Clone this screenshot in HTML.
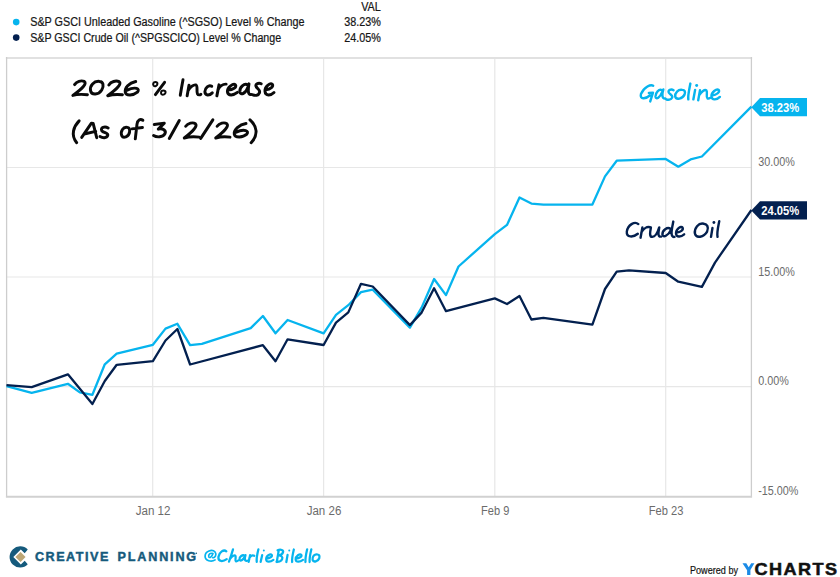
<!DOCTYPE html>
<html><head><meta charset="utf-8"><title>2026 % Increase - Gasoline vs Crude Oil</title>
<style>
html,body{margin:0;padding:0;background:#ffffff;}
body{width:840px;height:577px;overflow:hidden;position:relative;font-family:"Liberation Sans",sans-serif;}
</style></head><body>
<svg width="840" height="577" viewBox="0 0 840 577" style="display:block;position:absolute;left:0;top:0" font-family="Liberation Sans, sans-serif">
<rect x="0" y="0" width="840" height="577" fill="#ffffff"/>
<line x1="6.5" x2="751.5" y1="167.5" y2="167.5" stroke="#e7e7e7" stroke-width="1.2"/>
<line x1="6.5" x2="751.5" y1="277.0" y2="277.0" stroke="#e7e7e7" stroke-width="1.2"/>
<line x1="6.5" x2="751.5" y1="386.7" y2="386.7" stroke="#e7e7e7" stroke-width="1.2"/>
<line x1="152.7" x2="152.7" y1="57.5" y2="496.8" stroke="#e7e7e7" stroke-width="1.2"/>
<line x1="323.6" x2="323.6" y1="57.5" y2="496.8" stroke="#e7e7e7" stroke-width="1.2"/>
<line x1="494.8" x2="494.8" y1="57.5" y2="496.8" stroke="#e7e7e7" stroke-width="1.2"/>
<line x1="665.7" x2="665.7" y1="57.5" y2="496.8" stroke="#e7e7e7" stroke-width="1.2"/>
<line x1="5.9" x2="752.1" y1="58.0" y2="58.0" stroke="#e1e1e1" stroke-width="2.0"/>
<line x1="6.6" x2="6.6" y1="57.0" y2="496.8" stroke="#cdcdcd" stroke-width="1.3"/>
<line x1="751.4" x2="751.4" y1="57.0" y2="496.8" stroke="#cdcdcd" stroke-width="1.3"/>
<line x1="5.9" x2="752.1" y1="496.8" y2="496.8" stroke="#d1d1d1" stroke-width="2.1"/>
<circle cx="16.2" cy="22.1" r="3.3" fill="#06b4ee"/>
<circle cx="16.2" cy="37.6" r="3.3" fill="#03204f"/>
<g fill="#161616" stroke="#161616" stroke-width="0.22" font-size="12">
<text x="30.2" y="26.3" textLength="274.3" lengthAdjust="spacingAndGlyphs">S&amp;P GSCI Unleaded Gasoline (^SGSO) Level % Change</text>
<text x="30.2" y="41.8" textLength="251" lengthAdjust="spacingAndGlyphs">S&amp;P GSCI Crude Oil (^SPGSCICO) Level % Change</text>
<text x="361.2" y="11.3" textLength="19.6" lengthAdjust="spacingAndGlyphs">VAL</text>
<text x="344.2" y="26.3" textLength="36.6" lengthAdjust="spacingAndGlyphs">38.23%</text>
<text x="344.2" y="41.8" textLength="36.6" lengthAdjust="spacingAndGlyphs">24.05%</text>
</g>
<g fill="#6b6b6b" font-size="12.3">
<text x="758.2" y="166.1" textLength="36.6" lengthAdjust="spacingAndGlyphs">30.00%</text>
<text x="758.2" y="275.6" textLength="36.6" lengthAdjust="spacingAndGlyphs">15.00%</text>
<text x="758.2" y="385.4" textLength="30.6" lengthAdjust="spacingAndGlyphs">0.00%</text>
<text x="758.2" y="494.9" textLength="40.2" lengthAdjust="spacingAndGlyphs">-15.00%</text>
</g>
<g fill="#6b6b6b" font-size="12.3" text-anchor="start">
<text x="135.7" y="515.1" textLength="34.8" lengthAdjust="spacingAndGlyphs">Jan 12</text>
<text x="306.7" y="515.1" textLength="34.6" lengthAdjust="spacingAndGlyphs">Jan 26</text>
<text x="481.1" y="515.1" textLength="28.2" lengthAdjust="spacingAndGlyphs">Feb 9</text>
<text x="648.8" y="515.1" textLength="34.6" lengthAdjust="spacingAndGlyphs">Feb 23</text>
</g>
<polyline points="6.5,386.2 31.7,392.9 67.9,383.8 79.8,392.4 92.4,394.8 104.8,364.3 116.7,353.6 152.9,344.8 165.5,328.6 177.4,323.8 190.1,345.2 201.9,343.8 250.7,328.1 262.9,316.0 275.5,333.3 287.6,320.0 323.6,333.3 336.0,314.8 348.3,305.2 361.0,292.1 372.7,289.7 409.9,327.6 421.6,307.6 434.1,279.0 446.0,295.1 458.5,266.5 494.8,234.1 507.0,224.9 519.5,197.5 531.4,203.6 543.4,204.7 592.4,204.5 605.0,176.4 616.7,160.7 665.7,158.9 678.3,166.7 690.6,159.4 701.9,156.5 751.4,106.6" fill="none" stroke="#06b4ee" stroke-width="2.3" stroke-linejoin="round" stroke-linecap="butt"/>
<polyline points="6.5,385.2 31.7,387.1 67.9,374.3 92.4,404.0 104.8,381.0 116.7,364.8 152.9,361.2 165.5,340.5 177.4,329.0 190.1,364.5 262.9,345.2 275.5,361.2 287.6,339.3 323.6,345.0 336.0,322.6 348.3,312.4 361.0,283.8 372.7,286.5 409.9,325.1 421.6,312.6 434.1,288.2 446.0,311.2 494.8,298.4 507.0,304.0 519.5,296.0 531.4,319.5 543.4,317.9 592.4,324.6 605.0,289.0 616.7,271.7 629.0,270.4 665.7,273.0 678.3,281.7 701.9,286.9 715.0,262.6 751.4,210.0" fill="none" stroke="#03204f" stroke-width="2.3" stroke-linejoin="round" stroke-linecap="butt"/>
<path d="M751.3,107.2 L760.0,98.10000000000001 L807.0,98.10000000000001 L807.0,116.3 L760.0,116.3 Z" fill="#06b4ee"/>
<text x="761.2" y="111.6" font-size="12.3" font-weight="bold" fill="#ffffff" textLength="38" lengthAdjust="spacingAndGlyphs">38.23%</text>
<path d="M751.3,210.4 L760.0,201.3 L807.0,201.3 L807.0,219.5 L760.0,219.5 Z" fill="#03204f"/>
<text x="761.2" y="214.8" font-size="12.3" font-weight="bold" fill="#ffffff" textLength="38" lengthAdjust="spacingAndGlyphs">24.05%</text>
<g transform="translate(66,70) scale(0.14286)" fill="none" stroke="#0a0a0a" stroke-width="20.7" stroke-linecap="round" stroke-linejoin="round">
<path d="M60,102 C75,80 105,70 128,80 C148,94 118,128 48,178 C80,168 120,170 150,173"/>
<path d="M235,80 C195,75 165,110 172,145 C178,178 228,176 250,140 C268,108 260,82 235,80 Z"/>
<path d="M300,105 C315,80 350,72 372,82 C392,96 360,130 292,180 C325,170 360,170 395,173"/>
<path d="M488,80 C440,90 410,125 415,155 C420,182 470,180 500,155 C520,133 490,112 425,142"/>
<path d="M690,86 L626,172"/>
</g>
<g transform="translate(66,70) scale(0.14286)" fill="none" stroke="#0a0a0a" stroke-width="14.0" stroke-linecap="round" stroke-linejoin="round">
<path d="M625,84 C610,84 606,100 614,110 C624,118 640,108 640,96 C640,88 634,84 625,84 Z"/>
<path d="M680,144 C665,144 661,160 669,170 C679,178 697,168 697,156 C697,148 690,144 680,144 Z"/>
</g>
<g transform="translate(170,70) scale(0.14286)" fill="none" stroke="#0a0a0a" stroke-width="20.7" stroke-linecap="round" stroke-linejoin="round">
<path d="M91,68 C84,105 77,145 72,177"/>
<path d="M133,106 L120,181 M126,146 C142,118 166,100 182,105 C196,112 184,150 192,166 C198,177 210,175 216,170"/>
<path d="M292,114 C272,100 244,125 244,152 C246,182 276,180 296,160"/>
<path d="M343,104 L328,181 M335,140 C348,115 372,98 393,99"/>
<path d="M406,140 C440,138 470,120 458,104 C444,92 400,118 402,152 C406,184 445,178 472,157"/>
<path d="M544,104 C520,90 486,120 489,152 C494,182 530,165 548,115 M553,97 C548,125 540,176 568,172"/>
<path d="M638,96 C618,86 594,100 604,118 C614,134 634,140 626,160 C618,180 596,180 580,174"/>
<path d="M670,138 C704,134 728,114 716,100 C702,88 662,116 665,150 C668,184 706,180 728,158"/>
</g>
<g transform="translate(66,112) scale(0.14286)" fill="none" stroke="#0a0a0a" stroke-width="20.7" stroke-linecap="round" stroke-linejoin="round">
<path d="M92,62 C55,100 30,160 75,215"/>
<path d="M110,178 L178,78 L190,80 L215,180 M135,152 L208,136"/>
<path d="M295,112 C270,98 240,110 250,130 C262,148 298,145 292,165 C285,185 255,182 238,172"/>
<path d="M430,108 C400,100 380,135 390,165 C400,186 440,176 445,140 C448,118 440,108 430,108 Z"/>
<path d="M538,58 C520,45 500,55 497,85 L485,188 M462,118 L535,108"/>
</g>
<g transform="translate(150,112) scale(0.14286)" fill="none" stroke="#0a0a0a" stroke-width="20.7" stroke-linecap="round" stroke-linejoin="round">
<path d="M30,88 L100,78 L58,120 C90,112 115,130 105,152 C92,180 45,178 25,165"/>
<path d="M205,60 L135,185"/>
<path d="M250,100 C265,78 300,70 318,82 C335,98 300,135 240,182 C275,172 310,172 345,176"/>
<path d="M440,55 L355,185"/>
<path d="M470,100 C485,78 520,70 538,82 C555,98 520,135 460,182 C495,172 530,172 560,176"/>
<path d="M672,80 C625,88 585,125 590,155 C595,182 650,180 678,155 C695,135 665,112 600,142"/>
<path d="M700,55 C750,100 760,160 708,215"/>
</g>
<g transform="translate(630,75) scale(0.11905)" fill="none" stroke="#06b4ee" stroke-width="20.2" stroke-linecap="round" stroke-linejoin="round">
<path d="M195,90 C175,78 120,95 92,160 C80,205 130,205 172,168 M158,151 L193,148 L170,222"/>
<path d="M268,128 C245,112 212,150 214,182 C218,212 252,190 272,140 M280,122 C272,150 262,200 296,198"/>
<path d="M366,128 C345,115 315,128 326,148 C338,166 362,172 354,190 C346,210 318,210 304,204"/>
<path d="M440,125 C405,118 375,150 380,182 C388,212 440,200 458,165 C468,138 458,126 440,125 Z"/>
<path d="M507,72 C498,120 484,175 490,205"/>
<path d="M547,125 L532,205"/>
<path d="M588,127 L573,212 M580,172 C600,140 628,118 642,130 C654,145 636,185 650,196 C658,200 666,197 672,193"/>
<path d="M690,172 C725,168 758,145 745,126 C728,110 682,145 684,182 C688,215 732,208 755,184"/>
<circle cx="560" cy="88" r="12.5" fill="#06b4ee" stroke="none"/>
</g>
<g transform="translate(620,212) scale(0.13096)" fill="none" stroke="#03204f" stroke-width="18.3" stroke-linecap="round" stroke-linejoin="round">
<path d="M140,92 C112,68 60,98 52,150 C48,196 100,196 136,166"/>
<path d="M171,118 L157,196 M163,156 C178,128 205,110 228,116"/>
<path d="M236,118 C230,150 222,190 246,190 C268,188 288,155 298,120 M300,118 C294,150 284,192 314,188"/>
<path d="M385,128 C362,110 322,140 324,172 C328,200 368,182 390,135 M407,73 C398,120 378,196 416,190"/>
<path d="M432,157 C462,154 486,137 478,120 C466,102 425,132 428,167 C432,197 468,190 490,170"/>
<path d="M640,90 C600,80 565,125 572,165 C580,203 640,195 665,150 C680,115 665,93 640,90 Z"/>
<path d="M706,122 L695,190"/>
<path d="M758,70 C750,110 738,160 745,190"/>
<circle cx="717" cy="80" r="11" fill="#03204f" stroke="none"/>
</g>
<g transform="translate(198,542) scale(0.08333)" fill="none" stroke="#06b4ee" stroke-width="27.0" stroke-linecap="round" stroke-linejoin="round">
<path d="M340,112 C310,85 255,120 245,180 C240,240 300,238 345,205"/>
<path d="M420,88 C405,140 385,200 372,235 M385,202 C410,165 440,150 450,168 C458,190 440,225 455,232 C465,235 475,228 482,222"/>
<path d="M560,165 C535,148 495,175 498,210 C505,238 540,220 562,175 M570,158 C560,190 555,236 590,225"/>
<path d="M625,158 L608,238 M615,196 C630,168 650,150 675,165"/>
<path d="M725,88 C712,140 700,200 705,238"/>
<path d="M770,158 L752,238"/>
<circle cx="790" cy="102" r="12" fill="#06b4ee" stroke="none"/>
</g>
<g transform="translate(198,542) scale(0.08333)" fill="none" stroke="#06b4ee" stroke-width="20.4" stroke-linecap="round" stroke-linejoin="round">
<path d="M205,215 C160,245 85,225 85,170 C85,110 170,80 205,120 C230,155 200,195 178,188 M178,140 C150,125 120,150 130,178 C140,198 165,180 180,138"/>
</g>
<g transform="translate(258,542) scale(0.08333)" fill="none" stroke="#06b4ee" stroke-width="27.0" stroke-linecap="round" stroke-linejoin="round">
<path d="M100,200 C140,195 175,175 165,155 C150,135 95,165 98,210 C102,248 150,240 185,215"/>
<path d="M250,95 L225,240 M235,100 C270,85 310,95 300,125 C292,150 260,160 245,162 C280,160 300,180 290,205 C280,235 240,240 222,238"/>
<path d="M355,155 L340,240"/>
<path d="M430,90 C418,140 405,200 410,240"/>
<path d="M455,200 C495,195 530,175 520,155 C505,135 450,165 452,210 C456,248 505,240 540,215"/>
<path d="M590,88 C578,140 565,200 570,240"/>
<path d="M640,88 C628,140 615,200 620,240"/>
<path d="M715,150 C680,138 650,175 655,215 C665,248 720,235 735,195 C742,165 735,152 715,150 Z"/>
<circle cx="375" cy="102" r="12" fill="#06b4ee" stroke="none"/>
</g>
<path transform="translate(0.5,0.2)" d="M27.26,549.41 A10.56,10.56 0 1 0 27.26,564.02 L24.2,560.57 L20.32,564.36 L12.8,556.83 L20.32,549.31 L24.2,552.95 Z" fill="#155a7c"/>
<path transform="translate(0.4,0.2)" d="M14.98,556.83 L20.17,551.74 L25.17,556.69 L20.17,561.83 Z" fill="#bca676"/>
<g font-size="12.6" font-weight="bold" fill="#155a7c" stroke="#155a7c" stroke-width="0.45">
<text x="34.9" y="561.3" textLength="73.5" lengthAdjust="spacing">CREATIVE</text>
<text x="117.6" y="561.3" textLength="78.5" lengthAdjust="spacing">PLANNING</text>
</g>
<circle cx="196.3" cy="553.3" r="0.8" fill="#155a7c"/>
<text x="690" y="573.9" font-size="11" fill="#111111" stroke="#111111" stroke-width="0.2" textLength="48" lengthAdjust="spacingAndGlyphs">Powered by</text>
<path d="M742.5,563.2 L746.3,563.2 L748.7,567.3 L751.2,563.2 L754.4,563.2 L750.4,570.0 L750.4,574.9 L747.1,574.9 L747.1,570.2 Z" fill="#1b8be6"/>
<text x="754.6" y="575.1" font-size="16.4" font-weight="bold" fill="#111111" stroke="#111111" stroke-width="0.5" letter-spacing="1.3" textLength="84" lengthAdjust="spacingAndGlyphs">CHARTS</text>
</svg>
</body></html>
